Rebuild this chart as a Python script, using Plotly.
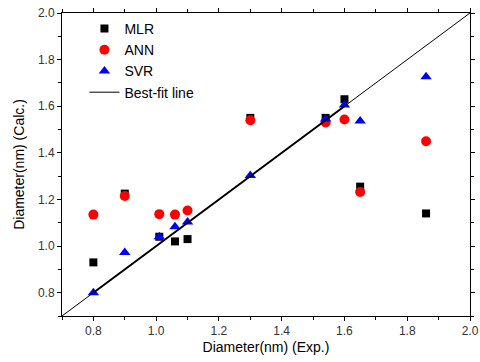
import plotly.graph_objects as go

x_exp = [0.8, 0.9, 1.01, 1.06, 1.1, 1.3, 1.54, 1.6, 1.65, 1.86]
mlr = [0.93, 1.225, 1.04, 1.02, 1.03, 1.55, 1.55, 1.63, 1.255, 1.14]
ann = [1.135, 1.215, 1.137, 1.135, 1.153, 1.54, 1.53, 1.543, 1.232, 1.45]
svr = [0.80, 0.972, 1.04, 1.083, 1.103, 1.303, 1.545, 1.605, 1.537, 1.727]
fit_full = [0.7, 2.0]
fit_data = [0.8, 1.6]

font = "Liberation Sans, Arial, sans-serif"
fig = go.Figure()
fig.add_trace(go.Scatter(x=x_exp, y=mlr, mode="markers", name="MLR",
                         marker=dict(symbol="square", color="black", size=8)))
fig.add_trace(go.Scatter(x=x_exp, y=ann, mode="markers", name="ANN",
                         marker=dict(symbol="circle", color="red", size=10)))
fig.add_trace(go.Scatter(x=x_exp, y=svr, mode="markers", name="SVR",
                         marker=dict(symbol="triangle-up", color="blue", size=10)))
fig.add_trace(go.Scatter(x=fit_full, y=fit_full, mode="lines", name="Best-fit line",
                         line=dict(color="black", width=1)))
fig.add_trace(go.Scatter(x=fit_data, y=fit_data, mode="lines", showlegend=False,
                         line=dict(color="black", width=2)))

axis_common = dict(
    showgrid=False, zeroline=False, showline=True, linecolor="black", linewidth=1,
    mirror="allticks", ticks="outside", ticklen=4, tickcolor="black",
    tickformat=".1f", dtick=0.2, automargin=False, ticklabeloverflow="allow",
    tickfont=dict(family=font, size=12, color="#333"),
    minor=dict(ticks="outside", ticklen=3, dtick=0.1, tickcolor="black"),
)
fig.update_xaxes(range=[0.7, 2.0], tick0=0.8, **axis_common,
                 title=dict(text="Diameter(nm) (Exp.)", font=dict(family=font, size=14, color="black"), standoff=4))
fig.update_yaxes(range=[0.7, 2.0], tick0=0.8, **axis_common,
                 title=dict(text="Diameter(nm) (Calc.)", font=dict(family=font, size=14, color="black"), standoff=10))

fig.update_layout(
    width=480, height=362,
    margin=dict(l=62, r=10, t=13, b=46),
    plot_bgcolor="white", paper_bgcolor="white",
    legend=dict(x=0.055, y=1.0, xanchor="left", yanchor="top",
                font=dict(family=font, size=14, color="black"),
                bgcolor="rgba(0,0,0,0)", tracegroupgap=0, itemwidth=30),
    font=dict(family=font),
)
fig.write_html("out.html", config={"displayModeBar": False},
               post_script="document.body.style.margin='0';document.body.style.overflow='hidden';")
